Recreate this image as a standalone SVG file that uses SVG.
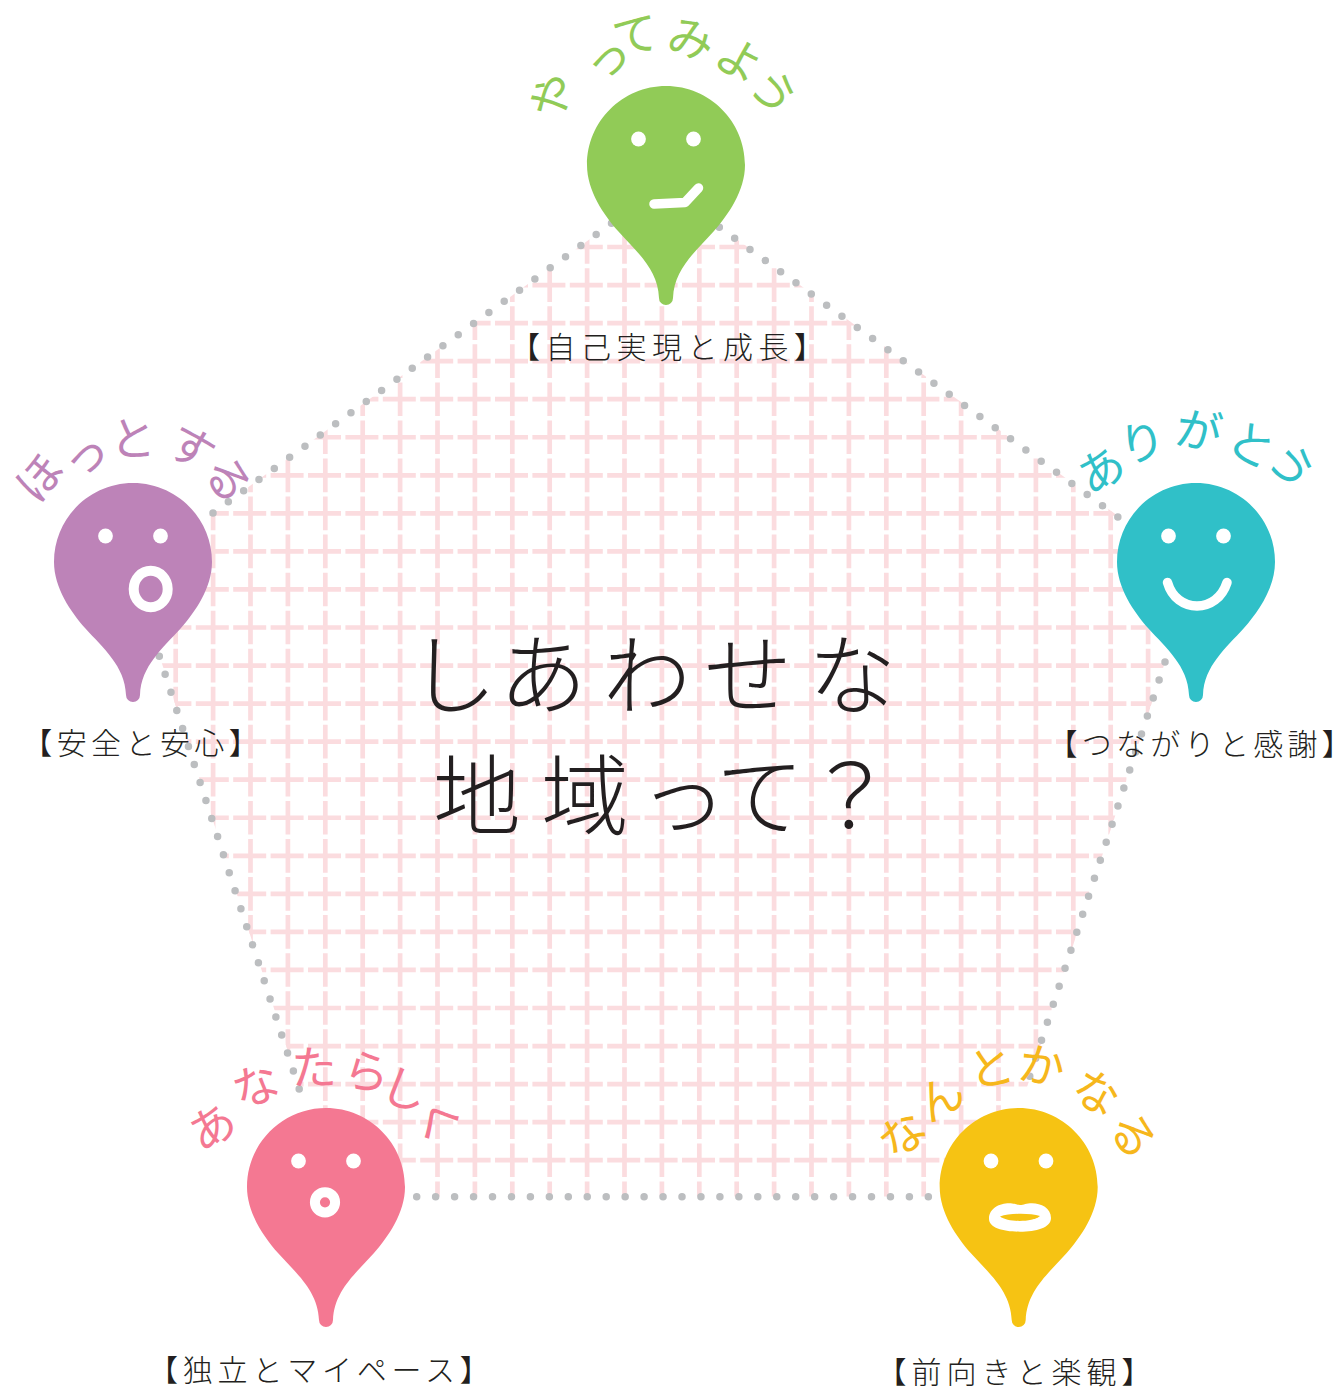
<svg xmlns="http://www.w3.org/2000/svg" width="1339" height="1389" viewBox="0 0 1339 1389">
<style>
text{font-family:"Noto Sans CJK JP","Noto Sans",sans-serif}
.title{font-size:88px;font-weight:300;fill:#231f20}
.lab{font-size:30px;font-weight:300;fill:#231f20}
.cur{font-size:46px;font-weight:400}
.gh{fill:none;stroke:#fbdcdf;stroke-width:4.7;stroke-dasharray:33 4.4}
.gv{fill:none;stroke:#fbdcdf;stroke-width:4.7;stroke-dasharray:33.65 4.4}
.dot{fill:none;stroke:#bcbec0;stroke-width:7.5;stroke-linecap:round;stroke-dasharray:0 18.95}
.eye{fill:#fff}
.m{fill:none;stroke:#fff;stroke-width:9.5;stroke-linecap:round;stroke-linejoin:round}
</style>
<defs>
<path id="pin" d="M-79 0C-79-43.6-43.6-79 0-79C43.6-79 79-43.6 79 0C79 26 62 50 48 66C30 86 8 104 7 133A7 7 0 0 1-7 133C-8 104-30 86-48 66C-62 50-79 26-79 0Z"/>
<clipPath id="pent"><polygon points="663.3,185.7 1194.5,571.6 991.5,1196.4 335.1,1196.4 132.1,571.6"/></clipPath>
</defs>
<g id="grid" clip-path="url(#pent)">
<path class="gh" d="M121 247H1210M121 285.05H1210M121 323.1H1210M121 361.15H1210M121 399.2H1210M121 437.25H1210M121 475.3H1210M121 513.35H1210M121 551.4H1210M121 589.45H1210M121 627.5H1210M121 665.55H1210M121 703.6H1210M121 741.65H1210M121 779.7H1210M121 817.75H1210M121 855.8H1210M121 893.85H1210M121 931.9H1210M121 969.95H1210M121 1008H1210M121 1046.05H1210M121 1084.1H1210M121 1122.15H1210M121 1160.2H1210"/>
<path class="gv" d="M175.7 230.2V1200M213.1 230.2V1200M250.5 230.2V1200M287.9 230.2V1200M325.3 230.2V1200M362.7 230.2V1200M400.1 230.2V1200M437.5 230.2V1200M474.9 230.2V1200M512.3 230.2V1200M549.7 230.2V1200M587.1 230.2V1200M624.5 230.2V1200M661.9 230.2V1200M699.3 230.2V1200M736.7 230.2V1200M774.1 230.2V1200M811.5 230.2V1200M848.9 230.2V1200M886.3 230.2V1200M923.7 230.2V1200M961.1 230.2V1200M998.5 230.2V1200M1035.9 230.2V1200M1073.3 230.2V1200M1110.7 230.2V1200M1148.1 230.2V1200"/>
</g>
<g id="connectors">
<path class="dot" d="M213 513L627 212"/>
<path class="dot" d="M704 216L1118 517"/>
<path class="dot" d="M1165 662L1024 1094"/>
<path class="dot" d="M159.3 656.3L305 1107"/>
<path class="dot" d="M416.7 1196.7H930"/>
</g>
<g id="title">
<text class="title" x="409 499 603 704 808" y="706.6">しあわせな</text>
<text class="title" x="433 541 639 716 806" y="828.4">地域って？</text>
</g>
<g id="node-green">
<use href="#pin" x="666" y="165" fill="#91cb57"/>
<circle class="eye" cx="638.5" cy="139" r="7.4"/><circle class="eye" cx="693.5" cy="139" r="7.4"/>
<path class="m" d="M654 204L685 202.5L698.5 188"/>
<text class="cur" fill="#91cb57" x="550.6 595.8 615.4 665.3 711.3 747.3" y="124.9 83.7 55.2 51.2 62.7 80.8" rotate="-50 -30 -10 10 30 60">やってみよう</text>
<text class="lab" y="358.4" x="510" letter-spacing="5.5">【自己実現と成長】</text>
</g>
<g id="node-purple">
<use href="#pin" x="133" y="562" fill="#bd83b8"/>
<circle class="eye" cx="105.5" cy="536" r="7.4"/><circle class="eye" cx="160.5" cy="536" r="7.4"/>
<ellipse cx="150.7" cy="589" rx="17" ry="18.2" fill="none" stroke="#fff" stroke-width="10"/>
<text class="cur" fill="#bd83b8" x="37.6 73.8 110 163.3 202.3" y="505.9 480.7 454.5 450.7 467.8" rotate="-50 -30 0 30 60">ほっとする</text>
<text class="lab" y="754.4" x="22.3" letter-spacing="4.4">【安全と安心】</text>
</g>
<g id="node-teal">
<use href="#pin" x="1196" y="562" fill="#30c0c8"/>
<circle class="eye" cx="1168.5" cy="536" r="7.4"/><circle class="eye" cx="1223.5" cy="536" r="7.4"/>
<path class="m" d="M1167.5 582.5C1172 598 1184 606 1197 606C1210 606 1222 598 1227 582.5"/>
<text class="cur" fill="#30c0c8" x="1089.8 1122.4 1173.3 1223.3 1265.3" y="495.7 463.2 443.2 447.7 454.8" rotate="-30 -10 10 30 60">ありがとう</text>
<text class="lab" y="755" x="1047.4" letter-spacing="4.3">【つながりと感謝】</text>
</g>
<g id="node-pink">
<use href="#pin" x="326" y="1187" fill="#f47892"/>
<circle class="eye" cx="298.5" cy="1161" r="7.4"/><circle class="eye" cx="353.5" cy="1161" r="7.4"/>
<circle cx="325" cy="1202.3" r="10.1" fill="none" stroke="#fff" stroke-width="10"/>
<text class="cur" fill="#f47892" x="200.8 240.1 291 341.3 377.4 412.3" y="1152.7 1109.3 1083.5 1084.2 1097.6 1109.8" rotate="-30 -20 0 10 20 60">あなたらしく</text>
<text class="lab" y="1381.4" x="148" letter-spacing="4.8">【独立とマイペース】</text>
</g>
<g id="node-yellow">
<use href="#pin" x="1018.7" y="1187" fill="#f6c313"/>
<circle class="eye" cx="991" cy="1161" r="7.4"/><circle class="eye" cx="1046" cy="1161" r="7.4"/>
<path fill="#fff" d="M989 1219C989 1208 1000 1203.3 1009 1203.3C1015 1203.3 1016 1205 1020 1205C1024 1205 1026 1203.3 1032 1203.3C1041 1203.3 1051 1208 1051 1218C1051 1228 1036 1231.7 1020 1231.7C1004 1231.7 989 1228 989 1219Z"/>
<path fill="#f6c313" d="M1000 1216.5C1010 1213 1030 1213 1040 1216C1032 1222.5 1008 1222.5 1000 1216.5Z"/>
<text class="cur" fill="#f6b71c" x="895.7 928.8 971.4 1016.3 1068.3 1107.3" y="1162.2 1123.7 1088.2 1078.2 1095.7 1123.8" rotate="-40 -30 -10 10 30 60">なんとかなる</text>
<text class="lab" y="1383" x="876.5" letter-spacing="5">【前向きと楽観】</text>
</g>
</svg>
